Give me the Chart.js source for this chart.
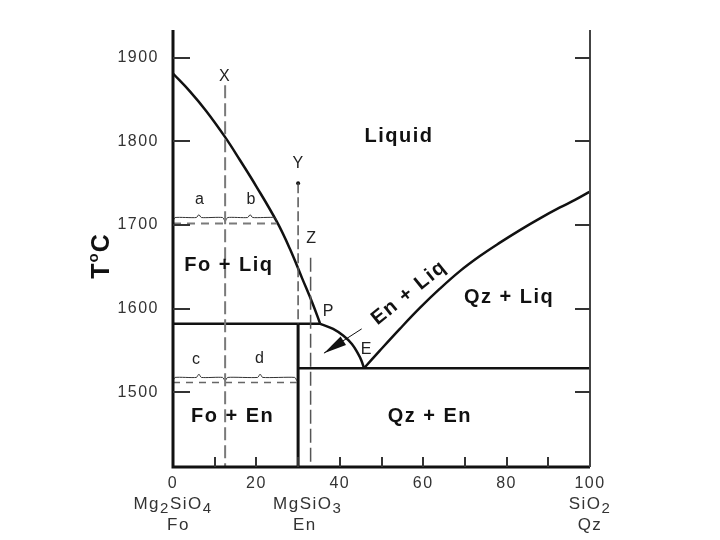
<!DOCTYPE html>
<html>
<head>
<meta charset="utf-8">
<script src="https://cdn.jsdelivr.net/npm/chart.js@4.4.1/dist/chart.umd.min.js"></script>
<style>
  html, body { margin: 0; padding: 0; background: #fff; }
  canvas { display: block; }
</style>
</head>
<body>
<canvas id="phase" width="720" height="540"></canvas>
<script>
// axes: composition (wt% SiO2) and temperature (deg C)
var xTicks = [0, 20, 40, 60, 80, 100];
var xMinorTicks = [10, 20, 30, 40, 50, 60, 70, 80, 90];
var yTicks = [1500, 1600, 1700, 1800, 1900];
var tMin = 1411, tMax = 1933;

// Fo liquidus, down to P
var foLiqX = [0, 4, 8, 12.5, 16, 20, 24.9, 28, 31, 33.5, 35.3];
var foLiqT = [1881, 1860, 1836, 1805, 1778, 1746, 1704, 1672, 1636, 1606, 1582];
// En liquidus, P to E
var enLiqX = [35.3, 38.4, 40.8, 42.9, 44.4, 45.2, 45.8];
var enLiqT = [1582, 1576, 1568, 1558, 1546, 1538, 1529];
// Qz liquidus, E to SiO2
var qzLiqX = [45.8, 49.6, 54.4, 59.2, 64.0, 68.8, 73.6, 78.4, 83.2, 88.0, 92.8, 96.4, 100];
var qzLiqT = [1529, 1550, 1576, 1601, 1624, 1645, 1663, 1679, 1694, 1708, 1721, 1730, 1740];

var periT = 1582;   // P
var eutT = 1529;    // E
var enX = 30;       // MgSiO3
var pX = 35.3;

// isopleths X, Y, Z and the lever-rule levels
var isoX = 12.5, isoXTop = 1867;
var isoY = 30, isoYTop = 1750;
var isoZ = 33, isoZTop = 1661;
var lever1T = 1702, lever1End = 24.9;
var lever2T = 1512, lever2End = 30;

// braces over the lever lines
var braceAX = [0, 0.5, 5.6, 6.2, 6.8, 11.9, 12.5, 13.1, 17.9, 18.5, 19.1, 24.4, 24.9];
var braceAT = [1705, 1709, 1709, 1712.5, 1709, 1709, 1704.5, 1709, 1709, 1712.5, 1709, 1709, 1705];
var braceBX = [0, 0.5, 5.6, 6.2, 6.8, 11.9, 12.5, 13.1, 20.3, 20.9, 21.5, 29.2, 29.7];
var braceBT = [1514, 1518, 1518, 1522, 1518, 1518, 1514, 1518, 1518, 1522, 1518, 1518, 1514];

// crystallisation arrow
var arrowX = [45.25, 36.2];
var arrowT = [1576, 1547];

var fieldLabels = [
  { text: 'Liquid', x: 54.2, t: 1806, rot: 0 },
  { text: 'Fo + Liq', x: 13.4, t: 1652, rot: 0 },
  { text: 'Fo + En', x: 14.3, t: 1471, rot: 0 },
  { text: 'Qz + En', x: 61.6, t: 1471, rot: 0 },
  { text: 'Qz + Liq', x: 80.6, t: 1614, rot: 0 },
  { text: 'En + Liq', x: 56.6, t: 1619, rot: -39 }
];
var pointLabels = [
  { text: 'X', x: 12.5, t: 1877 },
  { text: 'Y', x: 30.1, t: 1774 },
  { text: 'Z', x: 33.3, t: 1684 },
  { text: 'P', x: 37.4, t: 1597 },
  { text: 'E', x: 46.5, t: 1551 },
  { text: 'a', x: 6.5, t: 1730 },
  { text: 'b', x: 18.9, t: 1730 },
  { text: 'c', x: 5.7, t: 1539 },
  { text: 'd', x: 20.9, t: 1541 }
];
var endMembers = [
  { x: 0, formula: [['Mg', 0], ['2', 1], ['SiO', 0], ['4', 1]], name: 'Fo', nameX: 1.3 },
  { x: 32.3, formula: [['MgSiO', 0], ['3', 1]], name: 'En', nameX: 31.6 },
  { x: 100, formula: [['SiO', 0], ['2', 1]], name: 'Qz', nameX: 100 }
];

var FONT = '"Liberation Sans", Arial, Helvetica, sans-serif';
Chart.defaults.font.family = FONT;

function pts(xs, ts) {
  return xs.map(function(x, i) { return { x: x, y: ts[i] }; });
}

function solid(data, w, smooth) {
  return {
    data: data, showLine: true, pointRadius: 0, borderColor: '#111',
    borderWidth: w, tension: smooth ? 0.4 : 0
  };
}

function dashed(data, w, dash, color) {
  return {
    data: data, showLine: true, pointRadius: 0, borderColor: color,
    borderWidth: w, borderDash: dash, tension: 0
  };
}

var datasets = [
  dashed([{ x: isoX, y: isoXTop }, { x: isoX, y: tMin }], 2, [13, 5], '#7a7a7a'),
  dashed([{ x: isoY, y: isoYTop }, { x: isoY, y: periT }], 1.5, [10, 4], '#555'),
  dashed([{ x: isoZ, y: isoZTop }, { x: isoZ, y: tMin }], 1.5, [14, 5], '#555'),
  dashed([{ x: 0, y: lever1T }, { x: lever1End, y: lever1T }], 2, [8, 6], '#7a7a7a'),
  dashed([{ x: 0, y: lever2T }, { x: lever2End, y: lever2T }], 1.5, [7, 6], '#666'),
  {
    data: pts(braceAX, braceAT), showLine: true, pointRadius: 0,
    borderColor: '#333', borderWidth: 1, tension: 0.2
  },
  {
    data: pts(braceBX, braceBT), showLine: true, pointRadius: 0,
    borderColor: '#333', borderWidth: 1, tension: 0.2
  },
  solid(pts(foLiqX, foLiqT), 2.5, true),
  solid(pts(enLiqX, enLiqT), 2.5, true),
  solid(pts(qzLiqX, qzLiqT), 2.5, true),
  solid([{ x: 0, y: periT }, { x: pX, y: periT }], 2.5, false),
  solid([{ x: enX, y: periT }, { x: enX, y: tMin }], 3, false),
  solid([{ x: enX, y: eutT }, { x: 100, y: eutT }], 2.5, false),
  solid(pts(arrowX, arrowT), 1, false),
  { data: [{ x: isoY, y: isoYTop }], pointRadius: 2, pointBackgroundColor: '#111', pointBorderWidth: 0, showLine: false }
];

function drawChem(ctx, parts, cx, cy) {
  var big = '17px ' + FONT, small = '15px ' + FONT;
  var w = 0;
  parts.forEach(function(p) {
    ctx.font = p[1] ? small : big;
    w += ctx.measureText(p[0]).width;
  });
  var x = cx - w / 2;
  ctx.textAlign = 'left';
  ctx.textBaseline = 'middle';
  parts.forEach(function(p) {
    ctx.font = p[1] ? small : big;
    ctx.fillText(p[0], x, cy + (p[1] ? 5 : 0));
    x += ctx.measureText(p[0]).width;
  });
}

var decor = {
  id: 'decor',
  beforeDraw: function(chart) {
    chart.ctx.letterSpacing = '1.5px';
  },
  afterDraw: function(chart) {
    var ctx = chart.ctx, a = chart.chartArea;
    var xs = chart.scales.x, ys = chart.scales.y;
    ctx.save();
    ctx.letterSpacing = '1.5px';

    // frame
    ctx.strokeStyle = '#111';
    ctx.lineWidth = 3;
    ctx.beginPath();
    ctx.moveTo(a.left, a.top);
    ctx.lineTo(a.left, a.bottom);
    ctx.lineTo(a.right, a.bottom);
    ctx.stroke();
    ctx.strokeStyle = '#444';
    ctx.lineWidth = 2;
    ctx.beginPath();
    ctx.moveTo(a.right, a.top);
    ctx.lineTo(a.right, a.bottom);
    ctx.stroke();

    // inward ticks
    ctx.strokeStyle = '#333';
    ctx.lineWidth = 2;
    yTicks.forEach(function(v) {
      var py = Math.round(ys.getPixelForValue(v));
      ctx.beginPath();
      ctx.moveTo(a.left, py); ctx.lineTo(a.left + 17, py);
      ctx.moveTo(a.right, py); ctx.lineTo(a.right - 15, py);
      ctx.stroke();
    });
    xMinorTicks.forEach(function(v) {
      var px = Math.round(xs.getPixelForValue(v));
      ctx.beginPath();
      ctx.moveTo(px, a.bottom); ctx.lineTo(px, a.bottom - 10);
      ctx.stroke();
    });

    // arrow head
    var x0 = xs.getPixelForValue(arrowX[0]), y0 = ys.getPixelForValue(arrowT[0]);
    var x1 = xs.getPixelForValue(arrowX[1]), y1 = ys.getPixelForValue(arrowT[1]);
    var ang = Math.atan2(y1 - y0, x1 - x0);
    var len = 23, hw = 5;
    var bx = x1 - len * Math.cos(ang), by = y1 - len * Math.sin(ang);
    ctx.fillStyle = '#111';
    ctx.beginPath();
    ctx.moveTo(x1, y1);
    ctx.lineTo(bx + hw * Math.sin(ang), by - hw * Math.cos(ang));
    ctx.lineTo(bx - hw * Math.sin(ang), by + hw * Math.cos(ang));
    ctx.closePath();
    ctx.fill();

    // field labels
    ctx.textAlign = 'center';
    ctx.textBaseline = 'middle';
    ctx.fillStyle = '#111';
    fieldLabels.forEach(function(l) {
      ctx.save();
      ctx.translate(xs.getPixelForValue(l.x), ys.getPixelForValue(l.t));
      ctx.rotate(l.rot * Math.PI / 180);
      ctx.font = 'bold 20px ' + FONT;
      ctx.fillText(l.text, 0, 0);
      ctx.restore();
    });
    ctx.fillStyle = '#222';
    ctx.font = '16px ' + FONT;
    pointLabels.forEach(function(l) {
      ctx.fillText(l.text, xs.getPixelForValue(l.x), ys.getPixelForValue(l.t));
    });

    // end-member names under the axis
    ctx.fillStyle = '#333';
    endMembers.forEach(function(m) {
      drawChem(ctx, m.formula, xs.getPixelForValue(m.x), a.bottom + 37);
      ctx.font = '17px ' + FONT;
      ctx.textAlign = 'center';
      ctx.fillText(m.name, xs.getPixelForValue(m.nameX), a.bottom + 58);
    });

    // axis title T°C
    ctx.save();
    ctx.translate(102, (a.top + a.bottom) / 2 + 8);
    ctx.rotate(-Math.PI / 2);
    ctx.fillStyle = '#111';
    ctx.letterSpacing = '0px';
    var bigF = 'bold 25px ' + FONT, supF = 'bold 15px ' + FONT;
    ctx.font = bigF; var wT = ctx.measureText('T').width, wC = ctx.measureText('C').width;
    ctx.font = supF; var wo = ctx.measureText('o').width;
    var tx = -(wT + wo + wC + 2) / 2;
    ctx.textAlign = 'left';
    ctx.font = bigF; ctx.fillText('T', tx, 0);
    ctx.font = supF; ctx.fillText('o', tx + wT + 1, -8);
    ctx.font = bigF; ctx.fillText('C', tx + wT + wo + 2, 0);
    ctx.restore();

    ctx.restore();
  }
};

function plainLabel(v) { return String(v); }

new Chart(document.getElementById('phase').getContext('2d'), {
  type: 'scatter',
  data: { datasets: datasets },
  options: {
    responsive: false,
    animation: false,
    layout: { padding: { left: 0, right: 130, top: 30, bottom: 0 } },
    plugins: { legend: { display: false }, tooltip: { enabled: false } },
    scales: {
      x: {
        type: 'linear', min: 0, max: 100,
        afterBuildTicks: function(s) { s.ticks = xTicks.map(function(v) { return { value: v }; }); },
        afterFit: function(s) { s.height = 73; },
        grid: { display: false, drawTicks: false },
        border: { display: false },
        ticks: { color: '#333', font: { size: 16 }, padding: 7, maxRotation: 0, callback: plainLabel }
      },
      y: {
        type: 'linear', min: tMin, max: tMax,
        afterBuildTicks: function(s) { s.ticks = yTicks.map(function(v) { return { value: v }; }); },
        afterFit: function(s) { s.width = 173; },
        grid: { display: false, drawTicks: false },
        border: { display: false },
        ticks: { color: '#333', font: { size: 16 }, padding: 14, callback: plainLabel }
      }
    }
  },
  plugins: [decor]
});
</script>
</body>
</html>
